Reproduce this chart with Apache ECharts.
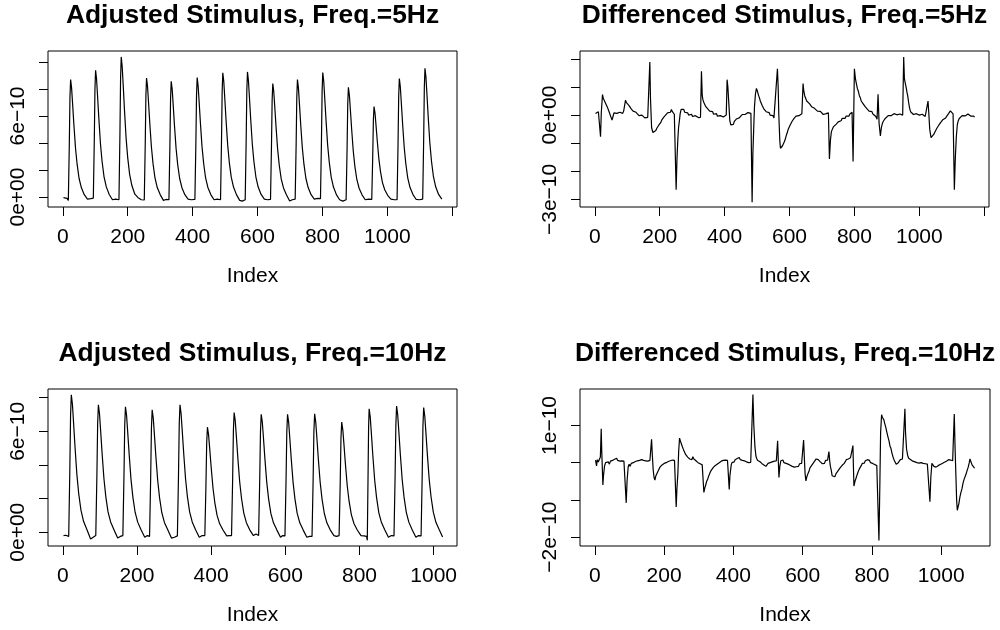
<!DOCTYPE html>
<html>
<head>
<meta charset="utf-8">
<style>
  html, body { margin: 0; background: #fff; }
  #main { width: 1000px; height: 630px; }
</style>
<script src="https://cdn.jsdelivr.net/npm/echarts@6.0.0/dist/echarts.min.js"></script>
</head>
<body>
<div id="main"></div>
<script>
// sample index, value in units of 1e-10
var adj5 = [
  [2, -0.05], [8, 0.0], [13, -0.1],
  [17, -0.25], [20, 3.91], [22, 7.39], [24, 8.69], [27, 8.08], [30, 6.95], [34, 5.39], [39, 3.65], [44, 2.43], [50, 1.39], [57, 0.70], [66, 0.17], [76, -0.15], [86, -0.12],
  [94, -0.08], [97, 4.22], [99, 7.97], [101, 9.38], [104, 8.72], [107, 7.50], [111, 5.82], [116, 3.94], [121, 2.63], [127, 1.50], [134, 0.75], [143, 0.19], [153, -0.2], [163, -0.15],
  [173, -0.2], [176, 4.67], [178, 8.81], [180, 10.37], [183, 9.64], [186, 8.30], [190, 6.43], [195, 4.36], [200, 2.90], [206, 1.66], [213, 0.83], [222, 0.21], [232, -0.05], [242, -0.2],
  [251, -0.22], [254, 3.96], [256, 7.49], [258, 8.81], [261, 8.19], [264, 7.05], [268, 5.46], [273, 3.70], [278, 2.47], [284, 1.41], [291, 0.70], [300, 0.18], [310, -0.25], [318, -0.18],
  [327, -0.2], [330, 3.86], [332, 7.28], [334, 8.57], [337, 7.97], [340, 6.86], [344, 5.31], [349, 3.60], [354, 2.40], [360, 1.37], [367, 0.69], [376, 0.17], [386, -0.15], [396, -0.2],
  [407, -0.18], [410, 3.98], [412, 7.51], [414, 8.84], [417, 8.22], [420, 7.07], [424, 5.48], [429, 3.71], [434, 2.48], [440, 1.41], [447, 0.71], [456, 0.18], [466, -0.2], [476, -0.15],
  [486, -0.2], [489, 4.14], [491, 7.81], [493, 9.19], [496, 8.55], [499, 7.35], [503, 5.70], [508, 3.86], [513, 2.57], [519, 1.47], [526, 0.74], [535, 0.18], [545, -0.25], [553, -0.3],
  [562, -0.2], [565, 4.17], [567, 7.87], [569, 9.26], [572, 8.61], [575, 7.41], [579, 5.74], [584, 3.89], [589, 2.59], [595, 1.48], [602, 0.74], [611, 0.19], [621, -0.15], [631, -0.2],
  [640, -0.18], [643, 3.78], [645, 7.14], [647, 8.40], [650, 7.81], [653, 6.72], [657, 5.21], [662, 3.53], [667, 2.35], [673, 1.34], [680, 0.67], [689, 0.17], [699, -0.3], [707, -0.2],
  [716, -0.15], [719, 3.91], [721, 7.39], [723, 8.69], [726, 8.08], [729, 6.95], [733, 5.39], [738, 3.65], [743, 2.43], [749, 1.39], [756, 0.70], [765, 0.17], [775, -0.15], [785, -0.1],
  [794, -0.12], [797, 4.14], [799, 7.83], [801, 9.21], [804, 8.57], [807, 7.37], [811, 5.71], [816, 3.87], [821, 2.58], [827, 1.47], [834, 0.74], [843, 0.18], [853, -0.2], [863, -0.3],
  [873, -0.2], [876, 3.65], [878, 6.90], [880, 8.12], [883, 7.55], [886, 6.50], [890, 5.03], [895, 3.41], [900, 2.27], [906, 1.30], [913, 0.65], [922, 0.16], [932, -0.2], [942, -0.15],
  [952, -0.18], [955, 3.01], [957, 5.69], [959, 6.69], [962, 6.22], [965, 5.35], [969, 4.15], [974, 2.81], [979, 1.87], [985, 1.07], [992, 0.54], [1001, 0.13], [1011, -0.15], [1021, -0.2],
  [1030, -0.2], [1033, 3.95], [1035, 7.45], [1037, 8.77], [1040, 8.16], [1043, 7.02], [1047, 5.44], [1052, 3.68], [1057, 2.46], [1063, 1.40], [1070, 0.70], [1079, 0.18], [1089, -0.18], [1099, -0.2],
  [1109, -0.15], [1112, 4.29], [1114, 8.10], [1116, 9.53], [1119, 8.86], [1122, 7.62], [1126, 5.91], [1131, 4.00], [1136, 2.67], [1142, 1.52], [1149, 0.76], [1158, 0.19], [1168, -0.15]
];

var diff5 = [
  [2, 0.06], [5, 0.13], [8, 0.07], [11, 0.12], [14, 0.06], [16, 0.1], [17.6, -0.77], [20, 0.1], [23.7, 0.73],
  [26, 0.6], [29, 0.62], [32, 0.45], [35, 0.42], [38, 0.3], [41, 0.27], [44, 0.12], [47, 0.06], [50, -0.08], [53, -0.18], [56, -0.05], [59, 0.08], [62, 0.02], [65, 0.12], [68, 0.06], [71, 0.13], [74, 0.04], [77, 0.1], [80, 0.03], [83, 0.1], [86, 0.06], [89, 0.15], [92, 0.2],
  [94.6, 0.53], [97, 0.45], [100, 0.48], [103, 0.38], [106, 0.33], [109, 0.3], [112, 0.22], [115, 0.24], [118, 0.14], [121, 0.16], [124, 0.08], [127, 0.1], [130, 0.03], [133, 0.06], [136, -0.02], [139, 0.03], [142, -0.04], [145, 0.0], [148, -0.07], [151, -0.03], [154, -0.1], [157, -0.06], [160, -0.12], [163, -0.08], [166.5, -0.12],
  [169.5, 1.89], [171.5, 0.6], [175, -0.45], [179, -0.62], [182, -0.66], [185, -0.58], [188, -0.55], [191, -0.47], [194, -0.44], [197, -0.36], [200, -0.3], [203, -0.27], [206, -0.18], [209, -0.16], [212, -0.08], [215, -0.08], [218, 0.0], [221, 0.02], [224, 0.08], [227, 0.04], [230, 0.12], [233, 0.1], [236, 0.2], [239, 0.12], [242, 0.08], [245, 0.03], [248, 0.05],
  [250.6, -2.66], [253, -1.6], [255.7, -0.89], [258, -0.45], [260.8, -0.18], [263, 0.05], [266, 0.2], [268, 0.24], [271, 0.16], [274, 0.2], [277, 0.1], [280, 0.14], [283, 0.05], [286, 0.08], [289, 0.0], [292, 0.05], [295, -0.02], [298, 0.03], [301, -0.05], [304, 0.0], [307, -0.06], [310, -0.02], [313, -0.08], [316, -0.03], [319, -0.09], [322, -0.04], [325.6, -0.08],
  [328.6, 1.56], [331, 0.7], [333, 0.55], [336, 0.45], [339, 0.4], [342, 0.3], [345, 0.33], [348, 0.22], [351, 0.25], [354, 0.14], [357, 0.18], [360, 0.08], [363, 0.12], [366, 0.03], [369, 0.08], [372, 0.0], [375, 0.05], [378, -0.04], [381, 0.0], [384, -0.07], [387, -0.02], [390, -0.08], [393, -0.03], [396, -0.07], [399, -0.02], [402, -0.06], [405, 0.0],
  [407.6, 1.26], [410, 1.0], [413, 0.4], [416, -0.2], [419, -0.35], [421, -0.39], [424, -0.3], [427, -0.33], [430, -0.22], [433, -0.24], [436, -0.14], [439, -0.16], [442, -0.08], [445, -0.1], [448, -0.03], [451, -0.06], [454, 0.02], [457, -0.01], [460, 0.06], [463, 0.02], [466, 0.08], [469, 0.03], [472, 0.09], [475, 0.04], [478, 0.1], [481, 0.06],
  [484.7, -3.1], [487, -1.4], [489.8, -0.41], [492, 0.3], [495, 0.75], [498, 0.95], [501, 0.85], [504, 0.72], [507, 0.62], [510, 0.5], [513, 0.45], [516, 0.33], [519, 0.3], [522, 0.2], [525, 0.22], [528, 0.12], [531, 0.15], [534, 0.06], [537, 0.09], [540, 0.0], [543, 0.05], [546, -0.05], [549, -0.02], [552, -0.1], [555, -0.06], [558, -0.14],
  [562.7, 1.65], [565, 1.0], [567, 0.0], [570, -0.9], [572, -1.18], [575, -1.15], [578, -1.1], [581, -1.04], [584, -0.95], [587, -0.85], [590, -0.72], [593, -0.63], [596, -0.5], [599, -0.45], [602, -0.35], [605, -0.3], [608, -0.22], [611, -0.2], [614, -0.12], [617, -0.1], [620, -0.04], [623, -0.06], [626, 0.02], [629, -0.02], [632, 0.04], [635, 0.0], [638, 0.05],
  [641.7, 1.12], [644, 0.85], [647, 0.68], [650, 0.62], [653, 0.5], [656, 0.52], [659, 0.44], [662, 0.4], [665, 0.36], [668, 0.3], [671, 0.32], [674, 0.26], [677, 0.24], [680, 0.2], [683, 0.22], [686, 0.14], [689, 0.16], [692, 0.1], [695, 0.13], [698, 0.06], [701, 0.1], [704, 0.02], [707, 0.06], [710, 0.0], [713, 0.05], [716, 0.01], [719.8, 0.08],
  [722.9, -1.56], [726, -0.9], [729, -0.59], [732, -0.5], [735, -0.42], [738, -0.44], [741, -0.35], [744, -0.32], [747, -0.3], [750, -0.24], [753, -0.26], [756, -0.18], [759, -0.2], [762, -0.12], [765, -0.15], [768, -0.08], [771, -0.12], [774, -0.04], [777, -0.08], [780, 0.0], [783, -0.04], [786, 0.04], [789, 0.0], [792.7, 0.1],
  [795.8, -1.65], [799.9, 1.65], [803, 1.3], [806, 1.12], [809, 0.95], [812, 0.85], [815, 0.7], [818, 0.62], [821, 0.5], [824, 0.48], [827, 0.4], [830, 0.35], [833, 0.3], [836, 0.28], [839, 0.22], [842, 0.2], [845, 0.14], [848, 0.17], [851, 0.1], [854, 0.12], [857, 0.04], [860, 0.07], [863, 0.0], [866, -0.05], [869.7, -0.15],
  [872.8, 0.74], [876, -0.3], [880, -0.74], [883, -0.45], [886, -0.3], [889, -0.22], [892, -0.15], [895, -0.12], [898, -0.06], [901, -0.09], [904, -0.02], [907, -0.05], [910, 0.02], [913, -0.02], [916, 0.04], [919, 0.0], [922, 0.05], [925, 0.0], [928, 0.06], [931, 0.01], [934, 0.05], [937, -0.01], [940, 0.04], [943, 0.0], [946, 0.05], [948.7, 0.0],
  [951.8, 2.07], [954, 1.3], [956.9, 1.12], [960, 0.95], [962, 0.8], [964, 0.7], [967, 0.45], [970, 0.25], [973, 0.12], [976, 0.08], [979, 0.1], [982, 0.02], [985, 0.06], [988, 0.0], [991, 0.05], [994, -0.01], [997, 0.04], [1000, 0.0], [1003, 0.05], [1006, -0.02], [1009, 0.03], [1012, -0.04], [1015, 0.01], [1018, -0.05], [1021, 0.0], [1024, -0.04],
  [1026.8, 0.5], [1029, 0.1], [1032, -0.5], [1036, -0.8], [1039.1, -0.83], [1042, -0.75], [1045, -0.68], [1048, -0.6], [1051, -0.55], [1054, -0.47], [1057, -0.44], [1060, -0.36], [1063, -0.33], [1066, -0.26], [1069, -0.24], [1072, -0.17], [1075, -0.16], [1078, -0.1], [1081, -0.1], [1084, -0.03], [1087, -0.04], [1090, 0.05], [1093, 0.08], [1095.6, 0.15], [1098, 0.12], [1101, 0.08], [1104, 0.04],
  [1107.9, -2.66], [1111, -1.5], [1114, -0.77], [1117, -0.35], [1120, -0.2], [1123, -0.12], [1126, -0.06], [1129, -0.1], [1132, -0.02], [1135, -0.06], [1138, 0.02], [1141, -0.03], [1144, 0.03], [1147, -0.02], [1150, 0.04], [1153, -0.02], [1156, 0.03], [1159, -0.04], [1162, 0.0], [1165, -0.06], [1168, -0.04], [1169.6, -0.08]
];

var adj10 = [
  [2, -0.2], [8, -0.18], [13, -0.22],
  [16, -0.25], [19, 3.68], [21, 6.95], [23, 8.18], [26, 7.61], [29, 6.54], [33, 5.07], [38, 3.44], [43, 2.29], [49, 1.31], [56, 0.65], [65, 0.16], [75, -0.4], [82, -0.3],
  [89, -0.2], [92, 3.41], [94, 6.44], [96, 7.58], [99, 7.05], [102, 6.06], [106, 4.70], [111, 3.18], [116, 2.12], [122, 1.21], [129, 0.61], [138, 0.15], [148, -0.35], [155, -0.25],
  [162, -0.2], [165, 3.36], [167, 6.34], [169, 7.46], [172, 6.94], [175, 5.97], [179, 4.63], [184, 3.13], [189, 2.09], [195, 1.19], [202, 0.60], [211, 0.15], [221, -0.3], [228, -0.2],
  [234, -0.25], [237, 3.28], [239, 6.19], [241, 7.28], [244, 6.77], [247, 5.82], [251, 4.51], [256, 3.06], [261, 2.04], [267, 1.16], [274, 0.58], [283, 0.15], [293, -0.35], [301, -0.3],
  [309, -0.22], [312, 3.41], [314, 6.44], [316, 7.58], [319, 7.05], [322, 6.06], [326, 4.70], [331, 3.18], [336, 2.12], [342, 1.21], [349, 0.61], [358, 0.15], [368, -0.3], [376, -0.2],
  [383, -0.2], [386, 2.81], [388, 5.31], [390, 6.25], [393, 5.81], [396, 5.00], [400, 3.88], [405, 2.63], [410, 1.75], [416, 1.00], [423, 0.50], [432, 0.13], [442, -0.22], [449, -0.2],
  [455, -0.2], [458, 3.20], [460, 6.05], [462, 7.12], [465, 6.62], [468, 5.70], [472, 4.41], [477, 2.99], [482, 1.99], [488, 1.14], [495, 0.57], [504, 0.14], [514, -0.2], [521, -0.1],
  [528, -0.2], [531, 3.16], [533, 5.97], [535, 7.02], [538, 6.53], [541, 5.62], [545, 4.35], [550, 2.95], [555, 1.97], [561, 1.12], [568, 0.56], [577, 0.14], [587, -0.3], [593, -0.2],
  [599, -0.22], [602, 3.16], [604, 5.97], [606, 7.02], [609, 6.53], [612, 5.62], [616, 4.35], [621, 2.95], [626, 1.97], [632, 1.12], [639, 0.56], [648, 0.14], [658, -0.3], [665, -0.25],
  [672, -0.25], [675, 3.17], [677, 5.98], [679, 7.04], [682, 6.55], [685, 5.63], [689, 4.36], [694, 2.96], [699, 1.97], [705, 1.13], [712, 0.56], [721, 0.14], [731, -0.2], [738, -0.25],
  [745, -0.2], [748, 2.95], [750, 5.57], [752, 6.55], [755, 6.09], [758, 5.24], [762, 4.06], [767, 2.75], [772, 1.83], [778, 1.05], [785, 0.52], [794, 0.13], [804, -0.2], [812, -0.22],
  [819, -0.25], [821, -0.48], [823, 3.30], [824.5, 6.24], [826, 7.34], [829, 6.83], [832, 5.87], [836, 4.55], [841, 3.08], [846, 2.06], [852, 1.17], [859, 0.59], [868, 0.15], [878, -0.3], [886, -0.2],
  [893, -0.22], [896, 3.38], [898, 6.38], [900, 7.50], [903, 6.98], [906, 6.00], [910, 4.65], [915, 3.15], [920, 2.10], [926, 1.20], [933, 0.60], [942, 0.15], [952, -0.3], [959, -0.2],
  [966, -0.22], [969, 3.34], [971, 6.31], [973, 7.42], [976, 6.90], [979, 5.94], [983, 4.60], [988, 3.12], [993, 2.08], [999, 1.19], [1006, 0.59], [1015, 0.15], [1024, -0.28]
];

var diff10 = [
  [2, 0.07], [4.9, -0.09], [7, 0.08], [10, 0.02], [12, 0.06], [14.5, 0.0], [16, 0.15], [18.4, 0.91], [20, 0.3], [23.2, -0.6], [25, -0.35], [28, -0.09], [31, 0.0], [33.8, 0.03], [36, -0.05], [39, 0.02], [42, -0.04], [45, 0.04], [48, 0.0], [51, 0.06], [54, 0.02], [57, 0.09], [60, 0.05], [63, 0.12], [66, 0.06], [69, 0.1], [72, 0.04], [75, 0.08], [78, 0.05], [81, 0.09], [84, 0.04], [87, 0.08],
  [90.6, -1.08], [93, -0.5], [96.3, -0.11], [99, -0.04], [102, -0.1], [105, -0.02], [108, -0.07], [111, 0.0], [114, -0.04], [117, 0.03], [120, -0.02], [123, 0.05], [126, 0.0], [129, 0.06], [132, 0.02], [135, 0.08], [138, 0.03], [141, 0.06], [144, 0.01], [147, 0.05], [150, 0.0], [153, 0.04], [156, 0.02], [159, 0.06], [161, 0.03],
  [163.8, 0.63], [166, 0.2], [168.5, -0.2], [171, -0.4], [173.4, -0.47], [176, -0.36], [179, -0.3], [182, -0.24], [185, -0.2], [188, -0.12], [191, -0.14], [194, -0.06], [197, -0.1], [200, -0.02], [203, -0.06], [206, 0.0], [209, -0.04], [212, 0.03], [215, -0.02], [218, 0.05], [221, 0.0], [224, 0.07], [227, 0.02], [230, 0.06], [232, 0.03],
  [234.9, -1.19], [237, -0.7], [239.7, -0.29], [242, 0.3], [244.6, 0.66], [247, 0.58], [250, 0.5], [253, 0.42], [256, 0.35], [259, 0.3], [262, 0.22], [265, 0.24], [268, 0.15], [271, 0.18], [274, 0.1], [277, 0.14], [280, 0.08], [283, 0.16], [286, 0.1], [289, 0.14], [292, 0.05], [295, 0.09], [298, 0.0], [301, 0.04], [304, -0.03], [307, 0.01], [310, -0.06], [312, -0.03],
  [314.8, -0.8], [317, -0.7], [320, -0.6], [323, -0.5], [326, -0.44], [329, -0.35], [332, -0.3], [335, -0.22], [338, -0.2], [341, -0.14], [344, -0.14], [347, -0.08], [350, -0.1], [353, -0.04], [356, -0.06], [359, 0.0], [362, -0.02], [365, 0.04], [368, 0.0], [371, 0.06], [374, 0.02], [377, 0.07], [380, 0.03], [383, 0.06], [385, 0.02],
  [388, -0.72], [390, -0.35], [393.8, -0.06], [396, 0.0], [399, 0.04], [402, 0.02], [405, 0.08], [408, 0.04], [411, 0.11], [414, 0.06], [417, 0.14], [420, 0.08], [423, 0.13], [426, 0.06], [429, 0.11], [432, 0.05], [435, 0.09], [438, 0.02], [441, 0.06], [444, 0.0], [447, 0.05], [450, 0.01], [453, 0.04],
  [456.4, 1.83], [459, 1.0], [462.2, 0.43], [465, 0.18], [467, 0.12], [470, 0.06], [473, 0.1], [476, 0.03], [479, 0.06], [482, -0.02], [485, 0.02], [488, -0.06], [491, -0.03], [494, -0.1], [497, -0.05], [500, -0.02], [503, -0.07], [506, 0.0], [509, -0.04], [512, 0.02], [515, -0.02], [518, 0.04], [521, 0.0], [524, 0.05],
  [527.7, 0.59], [529.5, 0.1], [531.5, -0.4], [534, -0.1], [537, 0.05], [540, 0.02], [543, 0.07], [546, 0.0], [549, 0.04], [552, -0.02], [555, 0.03], [558, -0.04], [561, 0.0], [564, -0.07], [567, -0.03], [570, -0.1], [573, -0.05], [576, -0.12], [579, -0.07], [582, -0.11], [585, -0.06], [588, -0.1], [591, -0.03], [594, -0.07], [597, -0.02], [600, -0.04],
  [602.7, 0.61], [605, 0.1], [607, -0.3], [609.4, -0.49], [612, -0.38], [615, -0.3], [618, -0.24], [621, -0.14], [624, -0.16], [627, -0.06], [630, -0.08], [633, 0.02], [636, 0.06], [639, 0.1], [642, 0.14], [645, 0.08], [648, 0.1], [651, 0.02], [654, 0.04], [657, -0.03], [660, 0.02], [663, -0.02], [666, 0.06], [669, 0.02], [672, 0.07],
  [675.8, 0.3], [678, 0.05], [680, -0.1], [682.5, -0.2], [685, -0.35], [687.3, -0.4], [690, -0.35], [693, -0.38], [696, -0.3], [699, -0.3], [702, -0.22], [705, -0.2], [708, -0.14], [711, -0.14], [714, -0.07], [717, -0.09], [720, -0.02], [723, 0.02], [726, 0.08], [729, 0.04], [732, 0.1], [735, 0.06], [738, 0.13], [741, 0.1],
  [745.1, 0.46], [746.5, -0.1], [748, -0.63], [751, -0.5], [754, -0.42], [757, -0.33], [760, -0.25], [763, -0.18], [766, -0.14], [769, -0.08], [772, -0.02], [775, 0.02], [778, -0.01], [781, 0.05], [784, 0.02], [787, 0.08], [790, 0.03], [793, 0.06], [796, 0.0], [799, 0.04], [802, -0.02], [805, 0.02], [808, -0.05], [811, -0.02], [814, -0.08], [817, -0.06],
  [820.2, -2.09], [823, -0.5], [825, 0.8], [827.9, 1.29], [830, 1.22], [832, 1.2], [834.5, 1.15], [837, 1.05], [840, 0.95], [843, 0.82], [846, 0.7], [849, 0.6], [852, 0.45], [855, 0.38], [858, 0.25], [861, 0.15], [864, 0.07], [867, 0.02], [870, -0.04], [873, -0.06], [876, 0.0], [879, 0.04], [882, 0.08], [885, 0.05], [888, 0.1], [891, 0.07], [893, 0.12],
  [895.2, 1.45], [897, 0.8], [900, 0.36], [903, 0.2], [906, 0.12], [909, 0.15], [912, 0.08], [915, 0.1], [918, 0.04], [921, 0.07], [924, 0.02], [927, 0.05], [930, 0.0], [933, 0.04], [936, -0.01], [939, 0.03], [942, 0.0], [945, 0.04], [948, -0.02], [951, 0.03], [954, -0.03], [957, 0.02], [960, -0.04], [963, 0.0],
  [967.4, -1.05], [970, -0.4], [973.1, -0.02], [976, -0.06], [979, -0.1], [982, -0.06], [985, -0.12], [988, -0.14], [991, -0.08], [994, -0.12], [997, -0.05], [1000, -0.1], [1003, -0.02], [1006, -0.06], [1009, 0.01], [1012, -0.04], [1015, 0.04], [1018, 0.0], [1021, 0.08], [1024, 0.03], [1027, 0.07], [1030, 0.02], [1033, 0.05], [1035, 0.03],
  [1037.7, 1.31], [1040, 0.4], [1042.5, -0.38], [1044.5, -1.0], [1046.4, -1.28], [1049, -1.25], [1051, -1.1], [1054, -0.92], [1057, -0.8], [1060, -0.7], [1063, -0.55], [1066, -0.45], [1069, -0.4], [1072, -0.3], [1075, -0.2], [1078, -0.12], [1081, 0.0], [1083, 0.1], [1086, 0.05], [1089, -0.06], [1092, -0.1], [1094, -0.12], [1096.4, -0.15]
];

var titles = [
  "Adjusted Stimulus, Freq.=5Hz",
  "Differenced Stimulus, Freq.=5Hz",
  "Adjusted Stimulus, Freq.=10Hz",
  "Differenced Stimulus, Freq.=10Hz"
];
var xTicks = [
  [0, 200, 400, 600, 800, 1000, 1200],
  [0, 200, 400, 600, 800, 1000, 1200],
  [0, 200, 400, 600, 800, 1000],
  [0, 200, 400, 600, 800, 1000]
];
var xLabels = [0, 200, 400, 600, 800, 1000];
var yTicks = [
  [0, 2, 4, 6, 8, 10],
  [-3, -2, -1, 0, 1, 2],
  [0, 2, 4, 6, 8],
  [-2, -1, 0, 1]
];
var yLabels = [[0, 6], [-3, 0], [0, 6], [-2, 1]];

// plot box of each panel (R style padded ranges)
var boxes = [
  { left: 48, top: 51, width: 409, height: 156, x: [-45.68, 1214.68], y: [-0.738, 10.808] },
  { left: 580, top: 51, width: 409, height: 156, x: [-45.68, 1214.68], y: [-3.27, 2.28] },
  { left: 48, top: 389, width: 409, height: 157, x: [-39.84, 1062.84], y: [-0.82, 8.52] },
  { left: 580, top: 389, width: 410, height: 157, x: [-42.84, 1140.84], y: [-2.24, 1.98] }
];
var seriesData = [adj5, diff5, adj10, diff10];

var FONT = "'Liberation Sans', Arial, Helvetica, sans-serif";

function sci(v) {
  if (v === 0) return "0e+00";
  return (v < 0 ? "\u2212" : "") + Math.abs(v) + "e\u221210";
}

var myChart = echarts.init(document.getElementById("main"));
var option = {
  animation: false,
  backgroundColor: "#fff",
  title: [],
  grid: [],
  xAxis: [],
  yAxis: [],
  series: []
};

for (var i = 0; i < 4; i++) {
  var b = boxes[i];
  option.title.push({
    text: titles[i],
    left: b.left + b.width / 2,
    top: b.top - 48,
    textAlign: "center",
    padding: 0,
    textStyle: { fontFamily: FONT, fontSize: 26.4, fontWeight: "bold", color: "#000" }
  });
  option.grid.push({
    left: b.left, top: b.top, width: b.width, height: b.height,
    show: true, borderColor: "#000", borderWidth: 1, backgroundColor: "transparent"
  });
  option.xAxis.push({
    type: "value",
    gridIndex: i,
    min: b.x[0],
    max: b.x[1],
    position: "bottom",
    name: "Index",
    nameLocation: "middle",
    nameGap: 59,
    nameTextStyle: { fontFamily: FONT, fontSize: 21, color: "#000" },
    axisLine: { show: false, onZero: false },
    splitLine: { show: false },
    axisTick: { show: true, inside: false, length: 9, customValues: xTicks[i], lineStyle: { color: "#000", width: 1 } },
    axisLabel: {
      show: true, margin: 20, customValues: xLabels,
      formatter: function (v) { return String(v); },
      fontFamily: FONT, fontSize: 21, color: "#000"
    }
  });
  option.yAxis.push({
    type: "value",
    gridIndex: i,
    min: b.y[0],
    max: b.y[1],
    position: "left",
    axisLine: { show: false, onZero: false },
    splitLine: { show: false },
    axisTick: { show: true, inside: false, length: 9, customValues: yTicks[i], lineStyle: { color: "#000", width: 1 } },
    axisLabel: {
      show: true, rotate: 90, margin: 19, customValues: yLabels[i],
      formatter: sci, fontFamily: FONT, fontSize: 21, color: "#000"
    }
  });
  option.series.push({
    type: "line",
    xAxisIndex: i,
    yAxisIndex: i,
    data: seriesData[i],
    symbol: "none",
    showSymbol: false,
    clip: true,
    lineStyle: { color: "#000", width: 1.2 }
  });
}

myChart.setOption(option);
</script>
</body>
</html>
